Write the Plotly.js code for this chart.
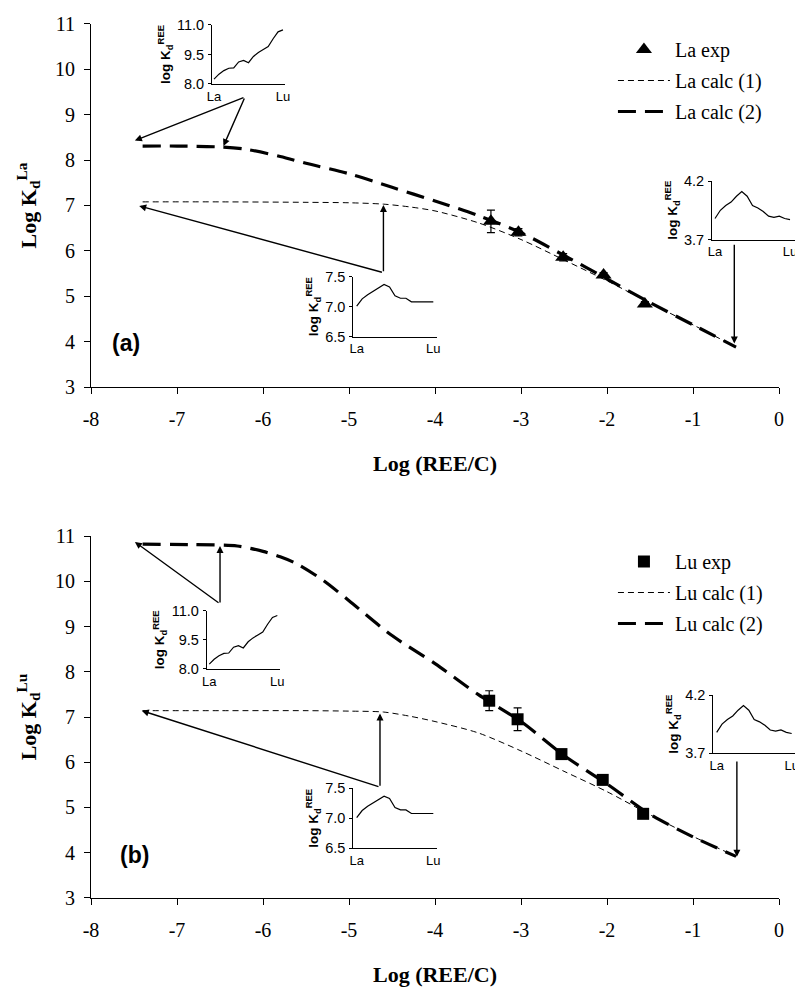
<!DOCTYPE html>
<html>
<head>
<meta charset="utf-8">
<script src="https://cdn.plot.ly/plotly-3.0.1.min.js"></script>
<style>html,body{margin:0;padding:0;background:#fff;}#chart{width:795px;height:987px;}</style>
</head>
<body>
<div id="chart"></div>
<script>
// ---------- Main panel (a): La ----------
const laExpX = [-3.35, -3.03, -2.51, -2.04, -1.56];
const laExpY = [6.65, 6.41, 5.86, 5.47, 4.83];
const laExpErr = [0.25, 0.08, 0.08, 0.05, 0.05];

const laCalc1X = [-7.4, -6.5, -5.5, -5.0, -4.6, -4.3, -4.0, -3.5, -3.0, -2.5, -2.0, -1.5, -1.0, -0.5];
const laCalc1Y = [7.08, 7.08, 7.07, 7.06, 7.03, 6.97, 6.88, 6.62, 6.25, 5.80, 5.34, 4.85, 4.37, 3.88];

const laCalc2X = [-7.4, -7.0, -6.5, -6.2, -5.8, -5.5, -5.0, -4.5, -4.0, -3.5, -3.0, -2.5, -2.0, -1.5, -1.0, -0.5];
const laCalc2Y = [8.31, 8.31, 8.29, 8.24, 8.08, 7.93, 7.70, 7.40, 7.10, 6.78, 6.40, 5.90, 5.38, 4.86, 4.37, 3.88];

// ---------- Main panel (b): Lu ----------
const luExpX = [-3.37, -3.04, -2.53, -2.05, -1.58];
const luExpY = [7.36, 6.95, 6.18, 5.61, 4.86];
const luExpErr = [0.22, 0.25, 0.05, 0.05, 0.05];

const luCalc1X = [-7.4, -6.5, -5.5, -5.0, -4.6, -4.3, -4.0, -3.5, -3.0, -2.5, -2.0, -1.5, -1.0, -0.5];
const luCalc1Y = [7.14, 7.14, 7.14, 7.13, 7.11, 7.02, 6.90, 6.65, 6.25, 5.80, 5.35, 4.84, 4.36, 3.92];

const luCalc2X = [-7.4, -6.8, -6.3, -6.0, -5.8, -5.6, -5.3, -5.0, -4.5, -4.0, -3.5, -3.0, -2.5, -2.0, -1.5, -1.0, -0.5];
const luCalc2Y = [10.82, 10.81, 10.78, 10.66, 10.54, 10.38, 10.02, 9.57, 8.80, 8.18, 7.50, 6.90, 6.15, 5.52, 4.85, 4.35, 3.92];

// ---------- Insets: log Kd of each REE (La..Lu) ----------
const reeIndex = [0, 1, 2, 3, 4, 5, 6, 7, 8, 9, 10, 11, 12, 13, 14];
const kdHighConc = [8.25, 8.50, 8.68, 8.80, 8.82, 9.12, 9.20, 9.08, 9.40, 9.60, 9.75, 9.90, 10.30, 10.65, 10.75];
const kdMidConc = [7.01, 7.13, 7.20, 7.26, 7.32, 7.37, 7.33, 7.18, 7.14, 7.14, 7.08, 7.08, 7.08, 7.08, 7.08];
const kdLowConc = [3.88, 3.95, 3.99, 4.02, 4.07, 4.11, 4.07, 3.99, 3.97, 3.94, 3.90, 3.89, 3.90, 3.88, 3.87];

// ---------- Axis tick labels ----------
const xTickVals = [-8, -7, -6, -5, -4, -3, -2, -1, 0];
const xTickText = ['-8', '-7', '-6', '-5', '-4', '-3', '-2', '-1', '0'];
const yTickVals = [3, 4, 5, 6, 7, 8, 9, 10, 11];
const reeTickText = ['La', 'Lu'];

// ---------- Arrows (tail -> head, in data units) ----------
const arrowsA = { tailX: [-6.21, -6.21, -4.60, -4.60, -0.52], tailY: [9.39, 9.39, 5.52, 5.52, 6.17],
                  headX: [-7.49, -6.46, -7.44, -4.60, -0.52], headY: [8.43, 8.31, 6.99, 7.01, 3.96] };
const arrowsB = { tailX: [-6.50, -6.50, -4.64, -4.64, -0.49], tailY: [9.50, 9.50, 5.45, 5.45, 6.05],
                  headX: [-7.49, -6.50, -7.41, -4.64, -0.49], headY: [10.87, 10.78, 7.14, 7.08, 3.91] };

const SERIF = '"Liberation Serif", "Times New Roman", serif';
const SANS = '"Liberation Sans", Arial, sans-serif';

const traces = [];
function mainTraces(xa, ya, leg, expX, expY, expErr, symbol, msize, c1x, c1y, c2x, c2y, el) {
  traces.push({ x: expX, y: expY, xaxis: xa, yaxis: ya, legend: leg, legendgroup: el + 'g1', name: el + ' exp', mode: 'markers',
    marker: { symbol: symbol, size: msize, color: 'black' },
    error_y: { type: 'data', array: expErr, visible: true, color: 'black', thickness: 1.2, width: 4 } });
  traces.push({ x: c1x, y: c1y, xaxis: xa, yaxis: ya, legend: leg, legendgroup: el + 'g2', name: el + ' calc (1)', mode: 'lines',
    line: { color: 'black', width: 1, dash: '6px,4px', shape: 'spline', smoothing: 0.8 } });
  traces.push({ x: c2x, y: c2y, xaxis: xa, yaxis: ya, legend: leg, legendgroup: el + 'g3', name: el + ' calc (2)', mode: 'lines',
    line: { color: 'black', width: 3.2, dash: '18px,9px', shape: 'spline', smoothing: 0.8 } });
}
mainTraces('x', 'y', 'legend', laExpX, laExpY, laExpErr, 'triangle-up', 14, laCalc1X, laCalc1Y, laCalc2X, laCalc2Y, 'La');
mainTraces('x2', 'y2', 'legend2', luExpX, luExpY, luExpErr, 'square', 12, luCalc1X, luCalc1Y, luCalc2X, luCalc2Y, 'Lu');

const insetSeries = [
  ['x3', 'y3', kdHighConc], ['x4', 'y4', kdMidConc], ['x5', 'y5', kdLowConc],
  ['x6', 'y6', kdHighConc], ['x7', 'y7', kdMidConc], ['x8', 'y8', kdLowConc]
];
insetSeries.forEach(s => traces.push({ x: reeIndex, y: s[2], xaxis: s[0], yaxis: s[1], mode: 'lines',
  showlegend: false, hoverinfo: 'skip', line: { color: 'black', width: 1.2 } }));

function mainX(anchor, standoff) {
  return { domain: [0.1145, 0.9799], anchor: anchor, range: [-8, 0], tickvals: xTickVals, ticktext: xTickText,
    ticks: 'outside', ticklen: 6, tickcolor: 'black', showline: true, linecolor: 'black', linewidth: 1,
    showgrid: false, zeroline: false, tickfont: { family: SERIF, size: 20, color: 'black' }, ticklabelstandoff: 8,
    title: { text: '<b>Log (REE/C)</b>', font: { family: SERIF, size: 22, color: 'black' }, standoff: standoff } };
}
function mainY(domain, anchor, el) {
  return { domain: domain, anchor: anchor, range: [3, 11], tickvals: yTickVals,
    ticks: 'outside', ticklen: 6, tickcolor: 'black', showline: true, linecolor: 'black', linewidth: 1,
    showgrid: false, zeroline: false, tickfont: { family: SERIF, size: 20, color: 'black' }, ticklabelstandoff: 5,
    title: { text: '<b>Log K<sub>d</sub><sup>' + el + '</sup></b>', font: { family: SERIF, size: 22, color: 'black' }, standoff: 12 } };
}
function insetX(domain, anchor, range) {
  return { domain: domain, anchor: anchor, range: range, tickvals: [0, 14], ticktext: reeTickText, ticks: '',
    showline: true, linecolor: 'black', linewidth: 1, showgrid: false, zeroline: false, ticklabeloverflow: 'allow',
    tickfont: { family: SANS, size: 13, color: 'black' }, ticklabelstandoff: 0 };
}
function insetY(domain, anchor, range, vals, texts) {
  return { domain: domain, anchor: anchor, range: range, tickvals: vals, ticktext: texts, ticks: 'outside', ticklen: 3,
    tickcolor: 'black', showline: true, linecolor: 'black', linewidth: 1, showgrid: false, zeroline: false,
    tickfont: { family: SANS, size: 14.5, color: 'black' }, ticklabelstandoff: 1,
    title: { text: '<b>log K<sub>d</sub><sup>REE</sup></b>', font: { family: SANS, size: 13.5, color: 'black' }, standoff: 3 } };
}

const annotations = [];
function addArrows(A, xr, yr) {
  for (let i = 0; i < A.tailX.length; i++) {
    annotations.push({ x: A.headX[i], y: A.headY[i], ax: A.tailX[i], ay: A.tailY[i], xref: xr, yref: yr,
      axref: xr, ayref: yr, text: '', showarrow: true, arrowhead: 2, arrowsize: 1, arrowwidth: 1.4,
      arrowcolor: 'black', standoff: 0, startstandoff: 0 });
  }
}
addArrows(arrowsA, 'x', 'y');
addArrows(arrowsB, 'x2', 'y2');
annotations.push({ x: -7.59, y: 3.97, xref: 'x', yref: 'y', text: '<b>(a)</b>', showarrow: false,
  font: { family: SANS, size: 23, color: 'black' } });
annotations.push({ x: -7.49, y: 3.95, xref: 'x2', yref: 'y2', text: '<b>(b)</b>', showarrow: false,
  font: { family: SANS, size: 23, color: 'black' } });

const legendBase = { xanchor: 'left', yanchor: 'top', bgcolor: 'rgba(0,0,0,0)', borderwidth: 0,
  font: { family: SERIF, size: 20, color: 'black' }, itemwidth: 52, traceorder: 'grouped', tracegroupgap: 2 };

const layout = {
  width: 795, height: 987, margin: { l: 0, r: 0, t: 0, b: 0 },
  paper_bgcolor: 'white', plot_bgcolor: 'rgba(0,0,0,0)', font: { family: SERIF, color: 'black' },
  showlegend: true,
  legend: Object.assign({}, legendBase, { x: 0.771, y: 1 - 30 / 987 }),
  legend2: Object.assign({}, legendBase, { x: 0.771, y: 1 - 542 / 987 }),
  xaxis: mainX('y', 26),
  yaxis: mainY([0.6079, 0.9757], 'x', 'La'),
  xaxis2: mainX('y2', 28),
  yaxis2: mainY([0.0902, 0.4569], 'x2', 'Lu'),
  xaxis3: insetX([212 / 795, 285 / 795], 'y3', [-0.41, 14.41]),
  yaxis3: insetY([0.9149, 0.9747], 'x3', [8, 11], [8, 9.5, 11], ['8.0', '9.5', '11.0']),
  xaxis4: insetX([353.3 / 795, 436.7 / 795], 'y4', [-0.62, 14.62]),
  yaxis4: insetY([0.6589, 0.7197], 'x4', [6.5, 7.5], [6.5, 7.0, 7.5], ['6.5', '7.0', '7.5']),
  xaxis5: insetX([712 / 795, 1], 'y5', [-0.56, 14.93]),
  yaxis5: insetY([0.7573, 0.8166], 'x5', [3.7, 4.2], [3.7, 4.2], ['3.7', '4.2']),
  xaxis6: insetX([206.7 / 795, 280 / 795], 'y6', [-0.53, 14.55]),
  yaxis6: insetY([0.3222, 0.3813], 'x6', [8, 11], [8, 9.5, 11], ['8.0', '9.5', '11.0']),
  xaxis7: insetX([353.3 / 795, 436.7 / 795], 'y7', [-0.62, 14.62]),
  yaxis7: insetY([0.1405, 0.2013], 'x7', [6.5, 7.5], [6.5, 7.0, 7.5], ['6.5', '7.0', '7.5']),
  xaxis8: insetX([713.3 / 795, 1], 'y8', [-0.63, 14.62]),
  yaxis8: insetY([0.2368, 0.2958], 'x8', [3.7, 4.2], [3.7, 4.2], ['3.7', '4.2']),
  annotations: annotations
};

Plotly.newPlot('chart', traces, layout, { displayModeBar: false, staticPlot: true });
</script>
</body>
</html>
